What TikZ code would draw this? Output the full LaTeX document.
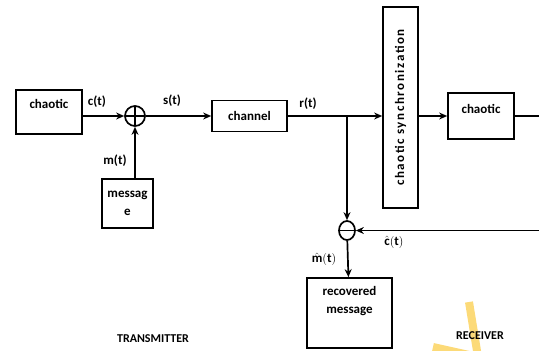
\documentclass[tikz,border=0pt]{standalone}
\usepackage{fontspec}
\setmainfont{Carlito}
\usepackage{amsmath}
\usetikzlibrary{arrows.meta, shapes.geometric, positioning, calc}
\definecolor{marker}{RGB}{252,214,105}
\newcommand{\boxfont}{\bfseries\fontsize{13}{15}\selectfont}
\tikzset{
  block/.style={rectangle, draw=black, line width=1.7pt, text centered, align=center, font=\boxfont},
  summer/.style={circle, draw=black, line width=1.7pt, minimum size=20pt, inner sep=0pt,
    path picture={\draw[line width=1.4pt] (path picture bounding box.north) -- (path picture bounding box.south)
      (path picture bounding box.west) -- (path picture bounding box.east);}},
  differ/.style={ellipse, draw=black, line width=1.7pt, minimum width=16pt, minimum height=19pt, inner sep=0pt,
    path picture={\draw[line width=1.4pt] (path picture bounding box.west) -- (path picture bounding box.east);}},
  arrow/.style={line width=1.7pt, -{Stealth[length=8pt, width=7pt]}},
  wire/.style={line width=1.7pt},
  sig/.style={font=\boxfont},
  side/.style={font=\bfseries\fontsize{12}{14}\selectfont}
}
\begin{document}
\begin{tikzpicture}[x=1pt, y=-1pt]
\useasboundingbox (0,0) rectangle (539,351);

% Nodes
\node (chaoticTx) [block, minimum width=66pt, minimum height=44pt, text depth=17pt] at (49,112) {chaotic};
\node (sum) [summer] at (135,116) {};
\node (message) [block, minimum width=51pt, minimum height=49pt] at (127.5,203.5) {messag\\[3pt]e};
\node (channel) [block, minimum width=75pt, minimum height=31pt] at (249.5,116) {channel};
\coordinate (split) at (347,116);
\node (sync) [block, minimum width=201pt, minimum height=35pt, rotate=90] at (400.5,107.5)
  {\addfontfeature{LetterSpace=12}chaotic synchronization};
\node (chaoticRx) [block, minimum width=66pt, minimum height=46pt, text depth=15pt] at (481,116) {chaotic};
\coordinate (outRx) at (539,116);
\node (diff) [differ] at (347,230.5) {};
\coordinate (inRx) at (539,230.5);
\node (recovered) [block, minimum width=85pt, minimum height=70pt, text depth=26pt] at (349.5,313) {recovered\\[3pt]message};

% Labels
\node [sig] at (97,102) {c(t)};
\node [sig] at (115,161) {m(t)};
\node [sig] at (172,101) {s(t)};
\node [sig] at (308,104) {r(t)};
\node [font=\fontsize{13}{15}\selectfont] at (394,242) {$\hat{\mathbf{c}}(\mathbf{t})$};
\node [font=\fontsize{13}{15}\selectfont] at (324,259) {$\hat{\mathbf{m}}(\mathbf{t})$};
\draw [marker, line width=8pt, opacity=0.9] (433,347) -- (478,357) -- (469,302);
\node (tx) [side] at (153,339) {TRANSMITTER};
\node (rx) [side] at (480,336) {RECEIVER};

% Arrows
\draw [arrow] (chaoticTx.east |- sum) -- (sum);
\draw [arrow] (message.north -| sum) -- (sum);
\draw [arrow] (sum) -- (channel);
\draw [arrow] (channel) -- (sync.north |- split);
\draw [arrow] (split) -- (diff);
\draw [arrow] (sync.south |- chaoticRx) -- (chaoticRx);
\draw [wire] (chaoticRx) -- (outRx);
\draw [arrow] (inRx) -- (diff);
\draw [arrow] (diff) -- (recovered);
\end{tikzpicture}
\end{document}
